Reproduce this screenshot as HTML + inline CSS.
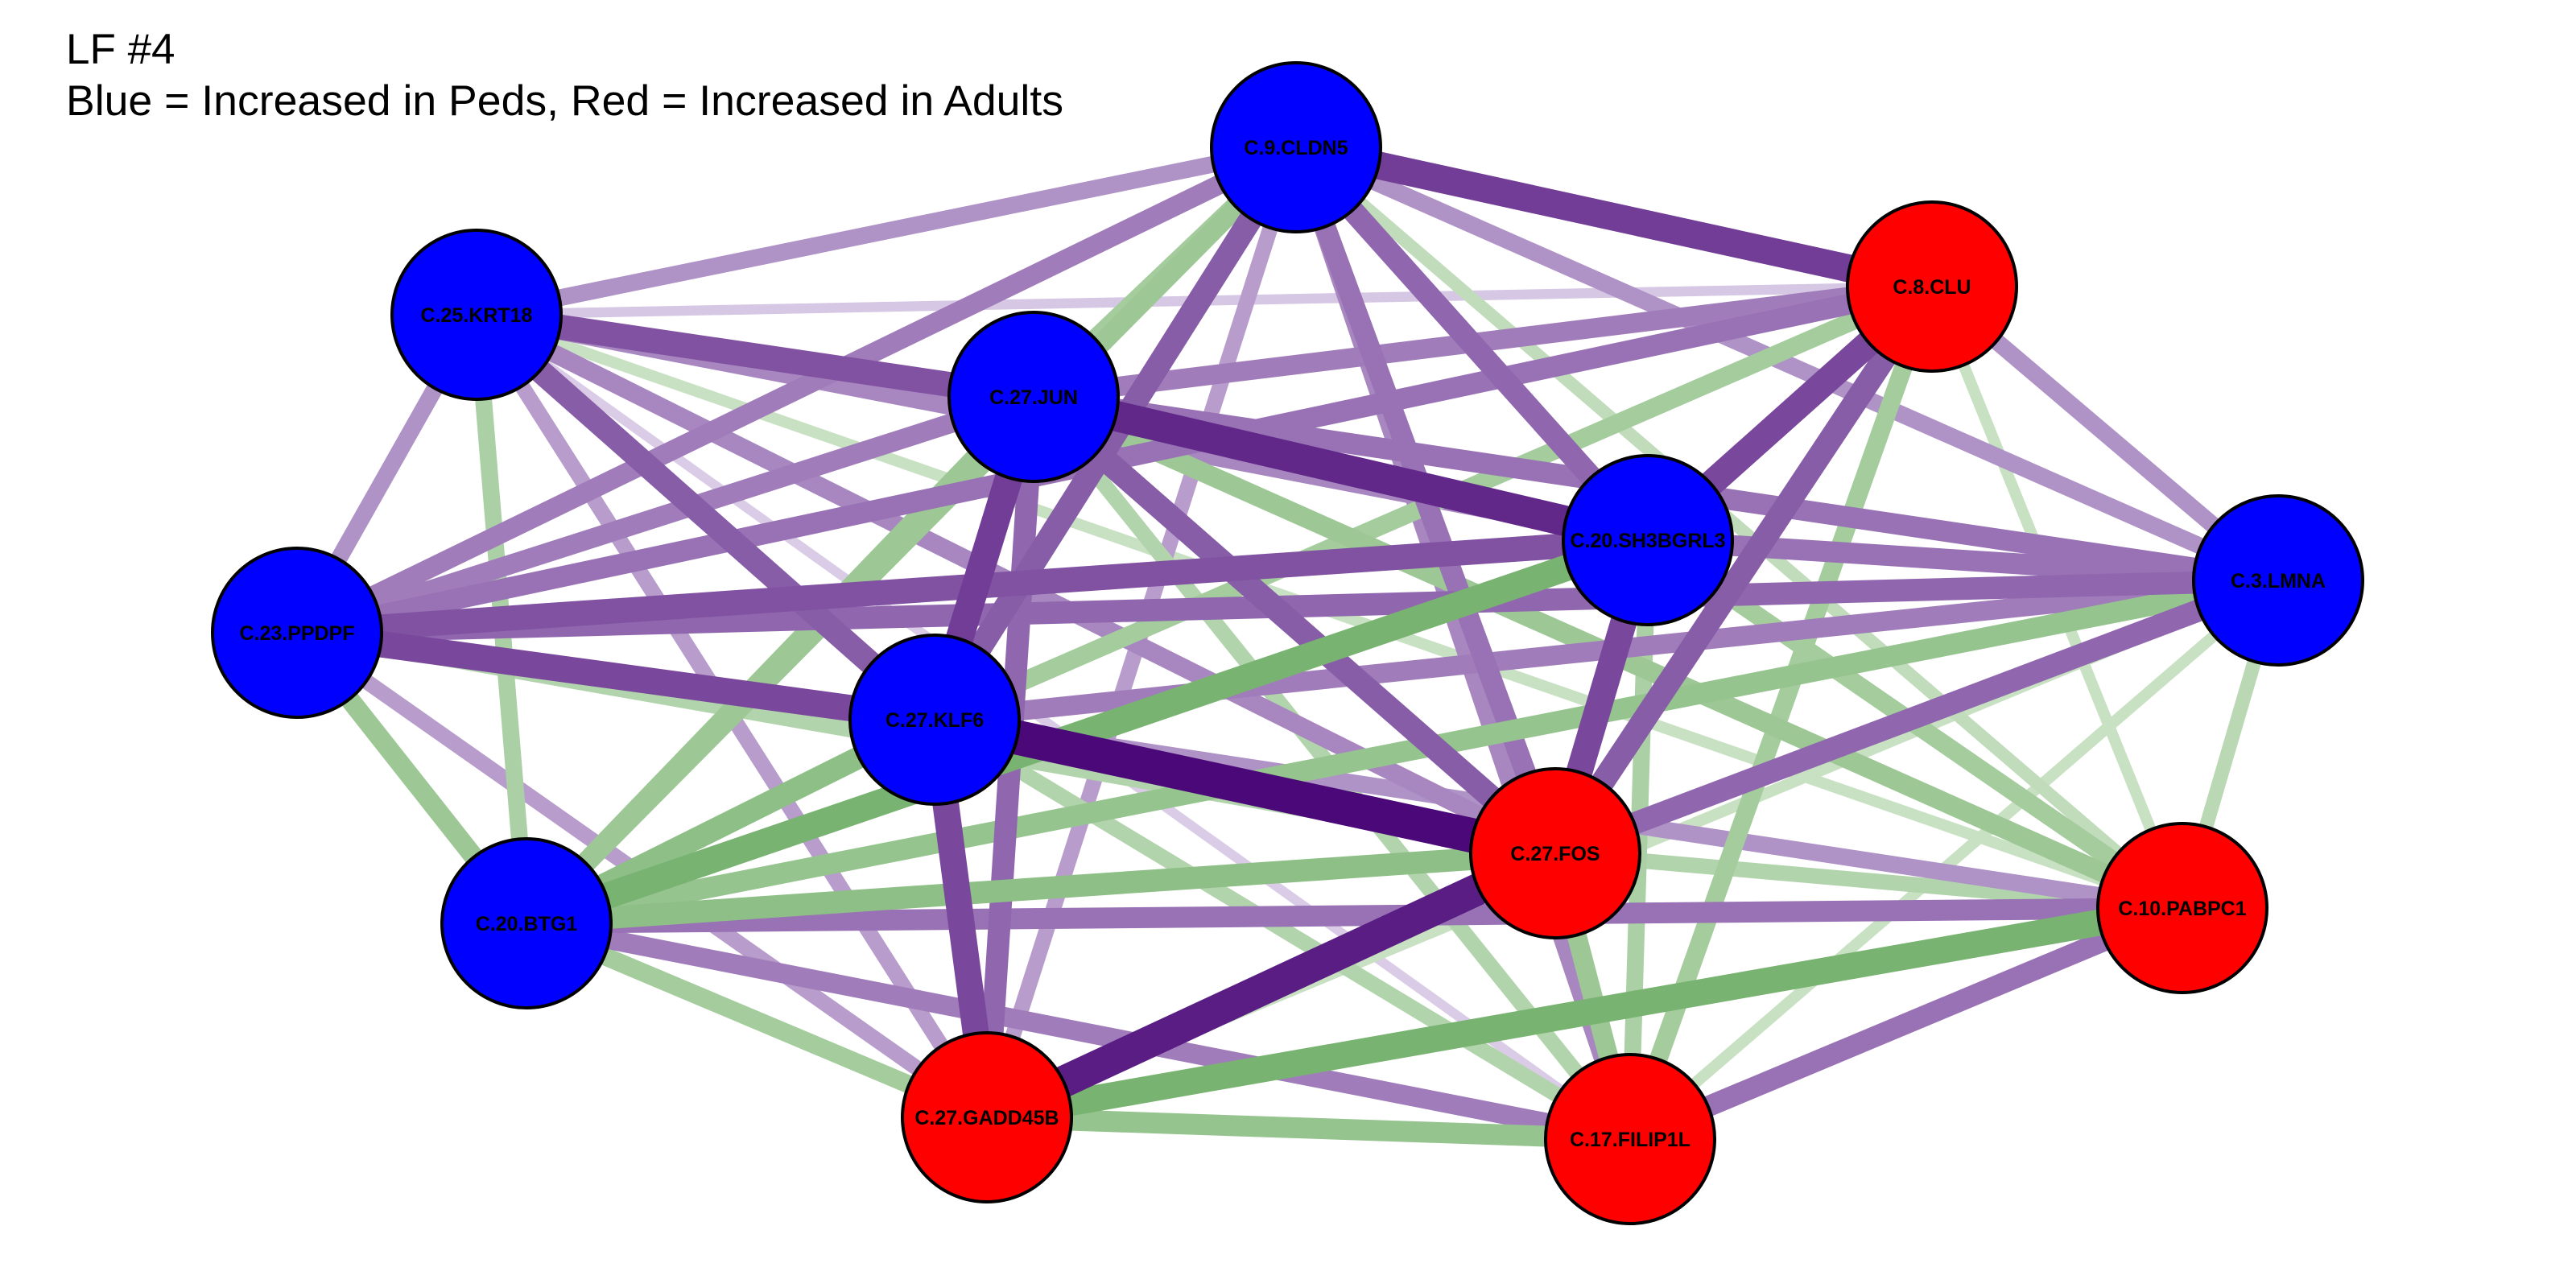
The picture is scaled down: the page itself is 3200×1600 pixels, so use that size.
<!DOCTYPE html>
<html><head><meta charset="utf-8"><style>html,body{margin:0;padding:0;background:#fff}svg{display:block}</style></head>
<body>
<svg id="chart" width="3200" height="1600" viewBox="0 0 3200 1600" xmlns="http://www.w3.org/2000/svg">
<rect width="3200" height="1600" fill="#fff"/>
<text x="82" y="79" font-family="Liberation Sans, sans-serif" font-size="53" fill="#000">LF #4</text>
<text x="82" y="143" font-family="Liberation Sans, sans-serif" font-size="53" fill="#000" textLength="1239" lengthAdjust="spacingAndGlyphs">Blue = Increased in Peds, Red = Increased in Adults</text>
<g id="edges"></g>
<g id="nodes"></g>
</svg>
<script>
const nodeNames = ["C.9.CLDN5","C.8.CLU","C.25.KRT18","C.27.JUN","C.20.SH3BGRL3","C.3.LMNA","C.23.PPDPF","C.27.KLF6","C.27.FOS","C.10.PABPC1","C.20.BTG1","C.27.GADD45B","C.17.FILIP1L"];
const nodeX = [1610,2400,592,1284,2047,2830,369,1161,1932,2711,654,1226,2025];
const nodeY = [183,356,391,493,671,721,786,894,1060,1128,1147,1388,1415];
const nodeGroup = ["peds","adults","peds","peds","peds","peds","peds","peds","adults","adults","peds","adults","adults"];
const edgeFrom = ["C.9.CLDN5","C.9.CLDN5","C.9.CLDN5","C.9.CLDN5","C.9.CLDN5","C.9.CLDN5","C.9.CLDN5","C.9.CLDN5","C.9.CLDN5","C.9.CLDN5","C.9.CLDN5","C.9.CLDN5",
"C.25.KRT18","C.25.KRT18","C.25.KRT18","C.25.KRT18","C.25.KRT18","C.25.KRT18","C.25.KRT18","C.25.KRT18","C.25.KRT18","C.25.KRT18",
"C.27.JUN","C.27.JUN","C.27.JUN","C.27.JUN","C.27.JUN","C.27.JUN","C.27.JUN","C.27.JUN","C.27.JUN","C.27.JUN",
"C.8.CLU","C.8.CLU","C.8.CLU","C.8.CLU","C.8.CLU","C.8.CLU","C.8.CLU",
"C.20.SH3BGRL3","C.20.SH3BGRL3","C.20.SH3BGRL3","C.20.SH3BGRL3","C.20.SH3BGRL3","C.20.SH3BGRL3",
"C.3.LMNA","C.3.LMNA","C.3.LMNA","C.3.LMNA","C.3.LMNA","C.3.LMNA","C.3.LMNA",
"C.23.PPDPF","C.23.PPDPF","C.23.PPDPF","C.23.PPDPF",
"C.27.KLF6","C.27.KLF6","C.27.KLF6","C.27.KLF6","C.27.KLF6",
"C.27.FOS","C.27.FOS","C.27.FOS","C.27.FOS",
"C.20.BTG1","C.20.BTG1","C.20.BTG1",
"C.27.GADD45B","C.27.GADD45B","C.10.PABPC1"];
const edgeTo = ["C.8.CLU","C.25.KRT18","C.27.JUN","C.20.SH3BGRL3","C.3.LMNA","C.23.PPDPF","C.27.KLF6","C.27.FOS","C.20.BTG1","C.27.GADD45B","C.10.PABPC1","C.17.FILIP1L",
"C.8.CLU","C.27.JUN","C.20.SH3BGRL3","C.23.PPDPF","C.20.BTG1","C.27.KLF6","C.27.FOS","C.27.GADD45B","C.17.FILIP1L","C.10.PABPC1",
"C.8.CLU","C.20.SH3BGRL3","C.23.PPDPF","C.27.KLF6","C.27.GADD45B","C.20.BTG1","C.27.FOS","C.10.PABPC1","C.17.FILIP1L","C.3.LMNA",
"C.23.PPDPF","C.20.SH3BGRL3","C.3.LMNA","C.27.FOS","C.17.FILIP1L","C.10.PABPC1","C.27.KLF6",
"C.23.PPDPF","C.3.LMNA","C.20.BTG1","C.27.FOS","C.10.PABPC1","C.17.FILIP1L",
"C.23.PPDPF","C.27.KLF6","C.20.BTG1","C.27.FOS","C.10.PABPC1","C.17.FILIP1L","C.27.GADD45B",
"C.27.KLF6","C.20.BTG1","C.27.FOS","C.27.GADD45B",
"C.27.FOS","C.27.GADD45B","C.20.BTG1","C.10.PABPC1","C.17.FILIP1L",
"C.20.BTG1","C.27.GADD45B","C.10.PABPC1","C.17.FILIP1L",
"C.10.PABPC1","C.27.GADD45B","C.17.FILIP1L",
"C.10.PABPC1","C.17.FILIP1L","C.17.FILIP1L"];
const edgeWeight = [0.75,0.35,-0.4,0.55,0.35,0.45,0.6,0.5,-0.45,0.3,-0.2,0.4,
0.1,0.65,0.4,0.35,-0.35,0.6,0.4,0.3,0.08,-0.15,
0.45,0.85,0.45,0.75,0.55,-0.45,0.6,-0.45,-0.3,0.5,
0.5,0.7,0.35,0.6,-0.4,-0.15,-0.4,
0.65,0.5,-0.7,0.7,-0.4,-0.35,
0.55,0.45,-0.5,0.55,-0.25,-0.15,-0.15,
0.7,-0.45,-0.3,0.3,
1.0,0.7,-0.55,0.35,-0.3,
-0.55,0.9,-0.3,-0.45,
0.5,-0.4,0.45,
-0.7,-0.5,0.5];

const R = 105;
const NS = "http://www.w3.org/2000/svg";
function idx(n){return nodeNames.indexOf(n);}
function mix(a,b,t){const p=x=>[parseInt(x.slice(1,3),16),parseInt(x.slice(3,5),16),parseInt(x.slice(5,7),16)];const A=p(a),B=p(b);return "rgb("+A.map((v,i)=>Math.round(v+(B[i]-v)*t)).join(",")+")";}
function edgeColor(w){const m=Math.abs(w);return w>0?mix("#e6dcf0","#4a0878",m):mix("#dcedd8","#4f9a45",m);}
function edgeWidth(w){return 9+34*Math.abs(w);}
const eg=document.getElementById("edges");
const order=edgeWeight.map((w,i)=>i).sort((a,b)=>Math.abs(edgeWeight[a])-Math.abs(edgeWeight[b]));
order.forEach(i=>{
  const a=idx(edgeFrom[i]), b=idx(edgeTo[i]);
  const l=document.createElementNS(NS,"line");
  l.setAttribute("x1",nodeX[a]);l.setAttribute("y1",nodeY[a]);
  l.setAttribute("x2",nodeX[b]);l.setAttribute("y2",nodeY[b]);
  l.setAttribute("stroke",edgeColor(edgeWeight[i]));
  l.setAttribute("stroke-width",edgeWidth(edgeWeight[i]));
  
  
  eg.appendChild(l);
});
const ng=document.getElementById("nodes");
nodeNames.forEach((n,i)=>{
  const c=document.createElementNS(NS,"circle");
  c.setAttribute("cx",nodeX[i]);c.setAttribute("cy",nodeY[i]);c.setAttribute("r",R);
  c.setAttribute("fill",nodeGroup[i]==="peds"?"#0000ff":"#ff0000");
  c.setAttribute("stroke","#000");c.setAttribute("stroke-width","4");
  
  
  ng.appendChild(c);
  const t=document.createElementNS(NS,"text");
  t.setAttribute("x",nodeX[i]);t.setAttribute("y",nodeY[i]+9);
  t.setAttribute("text-anchor","middle");
  t.setAttribute("font-family","Liberation Sans, sans-serif");
  t.setAttribute("font-weight","bold");t.setAttribute("font-size","25");
  t.setAttribute("fill","#000");
  t.textContent=n;
  
  
  ng.appendChild(t);
});
</script>
</body></html>
